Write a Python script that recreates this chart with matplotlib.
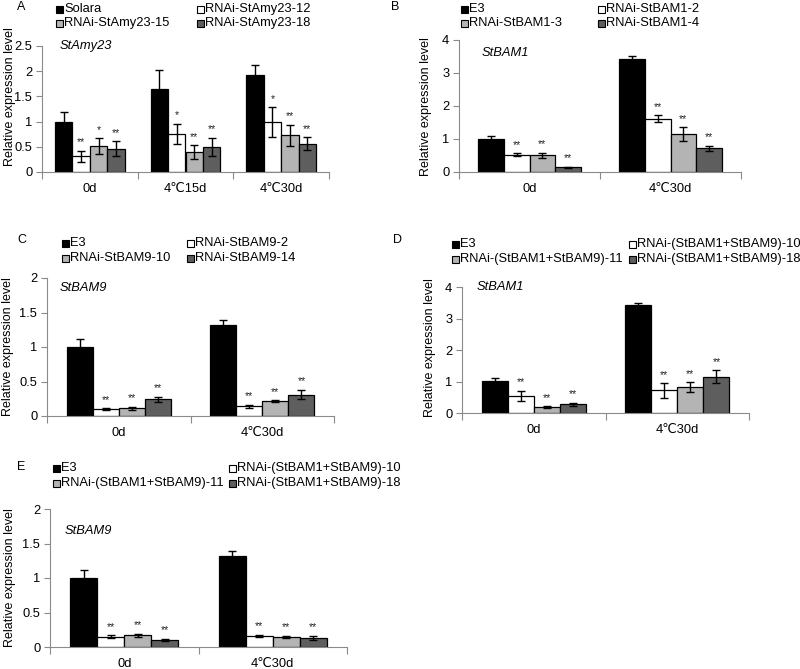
import numpy as np
import matplotlib
matplotlib.use("Agg")
import matplotlib.pyplot as plt
from matplotlib.patches import Rectangle

plt.rcParams['font.family'] = ['Liberation Sans', 'DejaVu Sans']

# ---------------- data ----------------
a_categories = ["0d", "4℃15d", "4℃30d"]
a_series = ["Solara", "RNAi-StAmy23-12", "RNAi-StAmy23-15", "RNAi-StAmy23-18"]
a_values = [[1.00, 1.65, 1.92], [0.31, 0.76, 0.99], [0.51, 0.39, 0.73], [0.46, 0.50, 0.56]]
a_errors = [[0.20, 0.38, 0.21], [0.11, 0.20, 0.29], [0.16, 0.14, 0.21], [0.15, 0.18, 0.13]]
a_stars = [["", "", ""], ["**", "*", "*"], ["*", "**", "**"], ["**", "**", "**"]]

b_categories = ["0d", "4℃30d"]
b_series = ["E3", "RNAi-StBAM1-2", "RNAi-StBAM1-3", "RNAi-StBAM1-4"]
b_values = [[1.01, 3.43], [0.53, 1.62], [0.50, 1.15], [0.14, 0.72]]
b_errors = [[0.09, 0.07], [0.04, 0.10], [0.09, 0.21], [0.02, 0.08]]
b_stars = [["", ""], ["**", "**"], ["**", "**"], ["**", "**"]]

c_categories = ["0d", "4℃30d"]
c_series = ["E3", "RNAi-StBAM9-2", "RNAi-StBAM9-10", "RNAi-StBAM9-14"]
c_values = [[1.00, 1.32], [0.10, 0.14], [0.11, 0.22], [0.24, 0.31]]
c_errors = [[0.12, 0.07], [0.01, 0.02], [0.02, 0.01], [0.04, 0.07]]
c_stars = [["", ""], ["**", "**"], ["**", "**"], ["**", "**"]]

d_categories = ["0d", "4℃30d"]
d_series = ["E3", "RNAi-(StBAM1+StBAM9)-10", "RNAi-(StBAM1+StBAM9)-11", "RNAi-(StBAM1+StBAM9)-18"]
d_values = [[1.01, 3.43], [0.54, 0.72], [0.19, 0.82], [0.28, 1.15]]
d_errors = [[0.09, 0.07], [0.17, 0.23], [0.03, 0.15], [0.05, 0.20]]
d_stars = [["", ""], ["**", "**"], ["**", "**"], ["**", "**"]]

e_categories = ["0d", "4℃30d"]
e_series = ["E3", "RNAi-(StBAM1+StBAM9)-10", "RNAi-(StBAM1+StBAM9)-11", "RNAi-(StBAM1+StBAM9)-18"]
e_values = [[1.00, 1.32], [0.15, 0.16], [0.17, 0.15], [0.10, 0.13]]
e_errors = [[0.12, 0.07], [0.02, 0.02], [0.02, 0.015], [0.02, 0.03]]
e_stars = [["", ""], ["**", "**"], ["**", "**"], ["**", "**"]]

bar_colors = ["#000000", "#ffffff", "#b4b4b4", "#5e5e5e"]
axis_gray = "#8a8a8a"

# ---------------- figure ----------------
W, H = 800, 669
fig = plt.figure(figsize=(W / 100, H / 100), dpi=100)


def px_axes(left, right, y0, ytop):
    return fig.add_axes([left / W, 1 - y0 / H, (right - left) / W, (y0 - ytop) / H])


def legend(series, rows_y, col_x):
    for j, name in enumerate(series):
        r, c = j // 2, j % 2
        mx = col_x[c]
        y = rows_y[r]
        fig.patches.append(Rectangle((mx / W, 1 - (y + 3.5) / H), 7 / W, 7 / H,
                                     transform=fig.transFigure, fc=bar_colors[j],
                                     ec="black", lw=0.8))
        fig.text((mx + 8.0) / W, 1 - y / H, name, ha="left", va="center", fontsize=9.3)


def panel(box, cats, series, values, errors, stars, ymax, ystep, gene, gene_px,
          ylabel_px, letter, letter_px, rows_y, col_x):
    ax = px_axes(*box)
    n = len(cats)
    k = len(series)
    w = 0.182
    x = np.arange(n)
    for j in range(k):
        xs = x + (j - (k - 1) / 2) * w
        ax.bar(xs, values[j], width=w, color=bar_colors[j], edgecolor="black",
               linewidth=0.9, zorder=2)
        ax.errorbar(xs, values[j], yerr=errors[j], fmt="none", ecolor="black",
                    elinewidth=1.0, capsize=3, capthick=1.0, zorder=3)
        for i in range(n):
            if stars[j][i]:
                ax.annotate(stars[j][i], (xs[i], values[j][i] + errors[j][i]),
                            xytext=(0, 2.5), textcoords="offset points",
                            ha="center", va="bottom", fontsize=7.5, color="#222222")
    ax.set_xlim(-0.5, n - 0.5)
    ax.set_ylim(0, ymax)
    yt = np.arange(0, ymax + 1e-9, ystep)
    ax.set_yticks(yt)
    ax.set_yticklabels(["%g" % v for v in yt])
    ax.set_xticks(np.arange(n + 1) - 0.5)
    ax.set_xticklabels([])
    ax.set_xticks(x, minor=True)
    ax.set_xticklabels(cats, minor=True)
    ax.tick_params(axis="x", which="major", direction="out", length=5,
                   color=axis_gray, width=0.8)
    ax.tick_params(axis="x", which="minor", length=0, pad=8, labelsize=9.3)
    ax.tick_params(axis="y", direction="out", length=4, color=axis_gray,
                   width=0.8, labelsize=9.3, pad=3)
    for s in ("top", "right"):
        ax.spines[s].set_visible(False)
    for s in ("left", "bottom"):
        ax.spines[s].set_color(axis_gray)
        ax.spines[s].set_linewidth(0.8)
    ax.set_facecolor("none")
    fig.text(gene_px[0] / W, 1 - gene_px[1] / H, gene, style="italic",
             ha="left", va="center", fontsize=9.3)
    fig.text(ylabel_px[0] / W, 1 - ylabel_px[1] / H, "Relative expression level",
             rotation=90, ha="center", va="center", fontsize=9)
    fig.text(letter_px[0] / W, 1 - letter_px[1] / H, letter, ha="left",
             va="center", fontsize=9)
    legend(series, rows_y, col_x)
    return ax


panel((42, 329, 172, 46), a_categories, a_series, a_values, a_errors, a_stars,
      2.5, 0.5, "StAmy23", (60, 46), (10, 97), "A", (17, 7), (9, 23), (56, 197))
panel((459, 741, 172, 40), b_categories, b_series, b_values, b_errors, b_stars,
      4, 1, "StBAM1", (482, 53), (426, 107), "B", (391, 7), (9, 23), (461, 598))
panel((47, 334, 416, 278), c_categories, c_series, c_values, c_errors, c_stars,
      2, 0.5, "StBAM9", (60, 288), (8, 347), "C", (17, 240), (243, 258), (62, 187))
panel((462, 749, 413, 287), d_categories, d_series, d_values, d_errors, d_stars,
      4, 1, "StBAM1", (477, 287), (430, 348), "D", (393, 240), (244, 259), (452, 629))
panel((50, 347, 647, 509), e_categories, e_series, e_values, e_errors, e_stars,
      2, 0.5, "StBAM9", (65, 531), (10, 578), "E", (17, 467), (468, 483), (53, 229))

fig.savefig("out.png", dpi=100, facecolor="white")
